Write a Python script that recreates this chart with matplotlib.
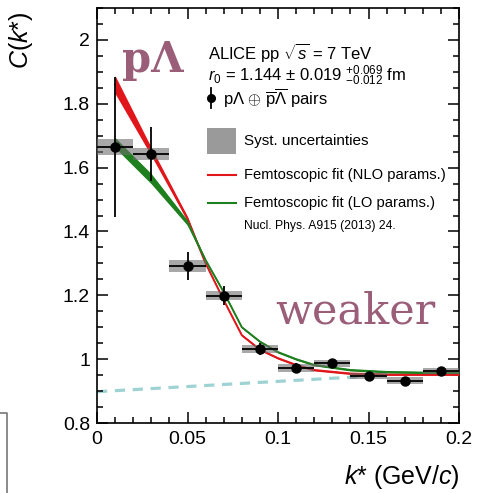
import numpy as np
import matplotlib
matplotlib.use("Agg")
import matplotlib.pyplot as plt
from matplotlib.patches import Rectangle
from matplotlib.lines import Line2D

plt.rcParams['font.family'] = ['Liberation Sans', 'DejaVu Sans']
plt.rcParams['mathtext.fontset'] = 'custom'
plt.rcParams['mathtext.rm'] = 'Liberation Sans'
plt.rcParams['mathtext.it'] = 'Liberation Sans:italic'
plt.rcParams['mathtext.bf'] = 'Liberation Sans:bold'

# p-Lambda correlation function, measured points
k_star = [0.01, 0.03, 0.05, 0.07, 0.09, 0.11, 0.13, 0.15, 0.17, 0.19]
c_val = [1.665, 1.643, 1.292, 1.199, 1.032, 0.973, 0.987, 0.947, 0.933, 0.963]
c_stat = [0.22, 0.085, 0.045, 0.03, 0.02, 0.015, 0.012, 0.01, 0.01, 0.008]
c_syst = [0.025, 0.02, 0.019, 0.015, 0.013, 0.012, 0.011, 0.01, 0.01, 0.01]
bin_half = 0.01

# femtoscopic fits (NLO / LO), centre and band half-width
fit_k = [0.01, 0.03, 0.05, 0.06, 0.07, 0.08, 0.09, 0.10, 0.11, 0.12, 0.14, 0.16, 0.18, 0.20]
nlo_c = [1.86, 1.65, 1.44, 1.30, 1.185, 1.075, 1.03, 1.003, 0.982, 0.966, 0.955, 0.952, 0.952, 0.952]
nlo_w = [0.028, 0.013, 0.007, 0.004, 0.003, 0.003, 0.003, 0.003, 0.003, 0.003, 0.003, 0.003, 0.003, 0.003]
lo_c = [1.678, 1.565, 1.427, 1.31, 1.21, 1.10, 1.055, 1.022, 1.0, 0.982, 0.966, 0.96, 0.958, 0.958]
lo_w = [0.016, 0.016, 0.008, 0.004, 0.003, 0.003, 0.003, 0.003, 0.003, 0.003, 0.003, 0.003, 0.003, 0.003]

# baseline
base_k = [0.0, 0.145]
base_c = [0.898, 0.945]

red = '#e0161b'
green = '#1d7f1d'
mauve = '#9a5e79'

fig = plt.figure(figsize=(4.84, 4.93), dpi=100)
ax = fig.add_axes([97 / 484, 1 - 423 / 493, 362 / 484, 415 / 493])

ax.plot(base_k, base_c, color='#9fd3d3', lw=2.3, ls=(0, (3.2, 2.4)), zorder=1,
        solid_capstyle='butt')

fk = np.array(fit_k)
for c, w, col in [(nlo_c, nlo_w, red), (lo_c, lo_w, green)]:
    c = np.array(c)
    w = np.array(w)
    ax.fill_between(fk, c - w, c + w, color=col, lw=0, zorder=3)
    ax.plot(fk, c, color=col, lw=1.4, zorder=3)

for k, c, s in zip(k_star, c_val, c_syst):
    ax.add_patch(Rectangle((k - bin_half, c - s), 2 * bin_half, 2 * s,
                           facecolor='#6e6e6e', alpha=0.6, lw=0, zorder=4))

ax.errorbar(k_star, c_val, yerr=c_stat, xerr=bin_half, fmt='o', color='black',
            ms=6.5, elinewidth=1.3, capsize=0, zorder=5)

ax.set_xlim(0, 0.2)
ax.set_ylim(0.8, 2.1)
ax.set_xticks([0, 0.05, 0.1, 0.15, 0.2])
ax.set_xticklabels(['0', '0.05', '0.1', '0.15', '0.2'])
ax.set_xticks(np.arange(0, 0.2001, 0.01), minor=True)
ax.set_yticks([0.8, 1.0, 1.2, 1.4, 1.6, 1.8, 2.0])
ax.set_yticklabels(['0.8', '1', '1.2', '1.4', '1.6', '1.8', '2'])
ax.set_yticks(np.arange(0.8, 2.1001, 0.05), minor=True)
ax.tick_params(which='both', direction='in', top=True, right=True, width=1.1,
               labelsize=14)
ax.tick_params(which='major', length=8)
ax.tick_params(which='minor', length=4)
ax.tick_params(axis='x', pad=6)
ax.tick_params(axis='y', pad=5)
for sp in ax.spines.values():
    sp.set_linewidth(1.2)

fig.text(21 / 484, 1 - 40 / 493, r'$C$($k$*)', rotation=90, ha='center',
         va='center', fontsize=18)
fig.text(460 / 484, 1 - 477 / 493, r'$k$* (GeV/$c$)', ha='right',
         va='center', fontsize=18)

# legend block
tx = ax.transAxes


def px(x, y):
    return (x - 97) / 362, (423 - y) / 415


ax.text(*px(208, 52), r'ALICE pp $\sqrt{s}$ = 7 TeV', transform=tx,
        fontsize=12, va='center')
ax.text(*px(208, 76), r'$r_0$ = 1.144 $\pm$ 0.019 $^{+0.069}_{-0.012}$ fm',
        transform=tx, fontsize=12, va='center')
ax.add_line(Line2D([px(211, 0)[0]] * 2, [px(0, 88)[1], px(0, 108)[1]],
                   transform=tx, color='black', lw=1.3))
ax.plot(*px(211, 98), 'o', color='black', ms=5.5, transform=tx)
ax.text(*px(223, 98),
        r'p$\Lambda$ $\oplus$ $\overline{\mathrm{p}}\overline{\Lambda}$ pairs',
        transform=tx, fontsize=12, va='center')
ax.add_patch(Rectangle(px(207, 154), 29 / 362, 26 / 415, transform=tx,
                       facecolor='#9a9a9a', lw=0))
ax.text(*px(244, 141), 'Syst. uncertainties', transform=tx, fontsize=11,
        va='center')
for y, col, lab in [(175, red, 'Femtoscopic fit (NLO params.)'),
                    (203, green, 'Femtoscopic fit (LO params.)')]:
    ax.add_line(Line2D([px(208, 0)[0], px(236, 0)[0]], [px(0, y)[1]] * 2,
                       transform=tx, color=col, lw=1.5))
    ax.text(*px(244, y), lab, transform=tx, fontsize=10.6, va='center')
ax.text(*px(244, 226), 'Nucl. Phys. A915 (2013) 24.', transform=tx,
        fontsize=8.7, va='center')

# annotations
fig.text(122 / 484, 1 - 60 / 493, 'p\u039b', family='DejaVu Serif',
         weight='bold', fontsize=30, color=mauve, va='center', ha='left')
fig.text(275 / 484, 1 - 312 / 493, 'weaker', family='DejaVu Serif',
         fontsize=31, color=mauve, va='center', ha='left')

# frame edge in the lower left corner
fig.add_artist(Line2D([0, 7 / 484, 7 / 484], [1 - 413 / 493, 1 - 413 / 493, 0],
                      transform=fig.transFigure, color='#777777', lw=1.2))

fig.savefig('out.png', dpi=100)
